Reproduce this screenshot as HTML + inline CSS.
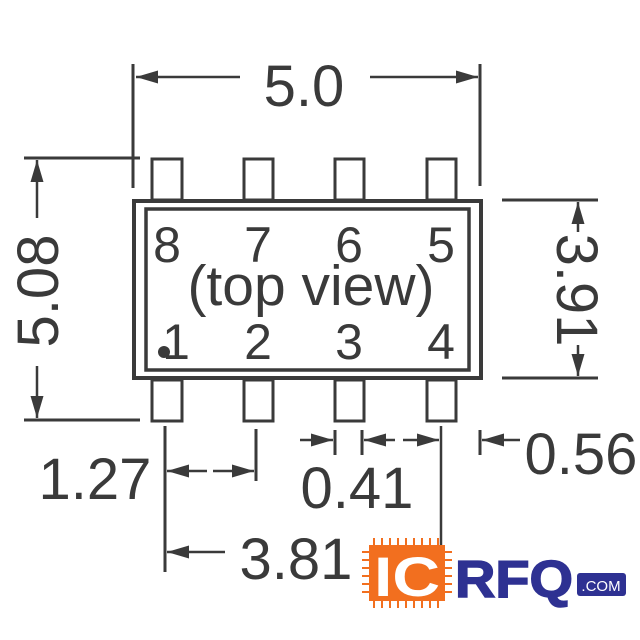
<!DOCTYPE html>
<html><head><style>body{margin:0;background:#fff}svg{display:block}</style></head><body>
<svg width="640" height="640" viewBox="0 0 640 640" xmlns="http://www.w3.org/2000/svg">
<defs>
<marker id="a" viewBox="0 0 10 10" refX="10" refY="5" markerWidth="22" markerHeight="13" orient="auto-start-reverse" markerUnits="userSpaceOnUse" preserveAspectRatio="none"><path d="M0,0 L10,5 L0,10 z" fill="#3a3a3a"/></marker>
</defs>
<g stroke="#3a3a3a" fill="none" stroke-width="3">
<rect x="134" y="201" width="347" height="177" stroke-width="4"/>
<rect x="146" y="209" width="323" height="161" stroke-width="3.5"/>
<g stroke-width="3">
<rect x="152" y="159" width="30" height="41"/><rect x="244" y="159" width="29" height="41"/><rect x="335" y="159" width="29" height="41"/><rect x="427" y="159" width="29" height="41"/>
<rect x="152" y="380" width="30" height="41"/><rect x="244" y="380" width="29" height="41"/><rect x="335" y="380" width="29" height="41"/><rect x="427" y="380" width="29" height="41"/>
</g>
<line x1="133" y1="64" x2="133" y2="188"/><line x1="480" y1="64" x2="480" y2="186"/>
<line x1="136" y1="77" x2="240" y2="77" marker-start="url(#a)" stroke-width="2.5"/>
<line x1="370" y1="77" x2="478" y2="77" marker-end="url(#a)" stroke-width="2.5"/>
<line x1="24" y1="158" x2="140" y2="158"/><line x1="24" y1="420" x2="140" y2="420"/>
<line x1="37" y1="160" x2="37" y2="218" marker-start="url(#a)" stroke-width="2.5"/>
<line x1="37" y1="366" x2="37" y2="418" marker-end="url(#a)" stroke-width="2.5"/>
<line x1="502" y1="200" x2="598" y2="200"/><line x1="502" y1="378" x2="598" y2="378"/>
<line x1="578" y1="202" x2="578" y2="232" marker-start="url(#a)" stroke-width="2.5"/>
<line x1="578" y1="345" x2="578" y2="376" marker-end="url(#a)" stroke-width="2.5"/>
<line x1="165" y1="426" x2="165" y2="572"/><line x1="256" y1="429" x2="256" y2="481"/>
<line x1="335" y1="430" x2="335" y2="455"/><line x1="362" y1="430" x2="362" y2="455"/>
<line x1="441" y1="426" x2="441" y2="572" stroke-width="2.5"/><line x1="480" y1="430" x2="480" y2="455"/>
<line x1="167" y1="471" x2="207" y2="471" marker-start="url(#a)" stroke-width="2.5"/>
<line x1="213" y1="471" x2="254" y2="471" marker-end="url(#a)" stroke-width="2.5"/>
<line x1="300" y1="440" x2="333" y2="440" marker-end="url(#a)" stroke-width="2.5"/>
<line x1="364" y1="440" x2="395" y2="440" marker-start="url(#a)" stroke-width="2.5"/>
<line x1="403" y1="440" x2="439" y2="440" marker-end="url(#a)" stroke-width="2.5"/>
<line x1="482" y1="440" x2="520" y2="440" marker-start="url(#a)" stroke-width="2.5"/>
<line x1="167" y1="552" x2="225" y2="552" marker-start="url(#a)" stroke-width="2.5"/>
</g>
<g fill="#3a3a3a" font-family="Liberation Sans, sans-serif" font-size="58" text-anchor="middle">
<text x="304" y="106">5.0</text>
<text transform="translate(58,291) rotate(-90)">5.08</text>
<text transform="translate(557,290) rotate(90)">3.91</text>
<text x="95" y="499">1.27</text>
<text x="357" y="508">0.41</text>
<text x="581" y="474">0.56</text>
<text x="296" y="579">3.81</text>
<g font-size="50">
<text x="167" y="262">8</text><text x="258" y="262">7</text><text x="349" y="262">6</text><text x="441" y="262">5</text>
<text x="311" y="305" font-size="57">(top view)</text>
<text x="176" y="359">1</text><text x="258" y="359">2</text><text x="349" y="359">3</text><text x="441" y="359">4</text>
</g>
</g>
<circle cx="164" cy="352" r="6" fill="#3a3a3a"/>
<g>
<g stroke="#f26f1f" stroke-width="2">
<path d="M374,538v8M382,538v8M390,538v8M398,538v8M406,538v8M414,538v8M422,538v8M430,538v8M438,538v8"/>
<path d="M374,600v8M382,600v8M390,600v8M398,600v8M406,600v8M414,600v8M422,600v8M430,600v8M438,600v8"/>
<path d="M362,552h8M362,560h8M362,568h8M362,576h8M362,584h8M362,592h8M444,552h8M444,560h8M444,568h8M444,576h8M444,584h8M444,592h8"/>
</g>
<rect x="369" y="545" width="76" height="56" fill="#f26f1f"/>
<text x="407" y="596" font-family="Liberation Sans, sans-serif" font-weight="bold" font-size="56" fill="#fff" text-anchor="middle" textLength="66" lengthAdjust="spacingAndGlyphs">IC</text>
<text x="455" y="597" font-family="Liberation Sans, sans-serif" font-weight="bold" font-size="52" fill="#2e3192" stroke="#2e3192" stroke-width="1.5" textLength="118" lengthAdjust="spacingAndGlyphs">RFQ</text>
<rect x="577" y="573" width="49" height="23" rx="3" fill="#2e3192"/>
<text x="601" y="591" font-family="Liberation Sans, sans-serif" font-size="15" fill="#fff" text-anchor="middle">.COM</text>
</g>
</svg>
</body></html>
